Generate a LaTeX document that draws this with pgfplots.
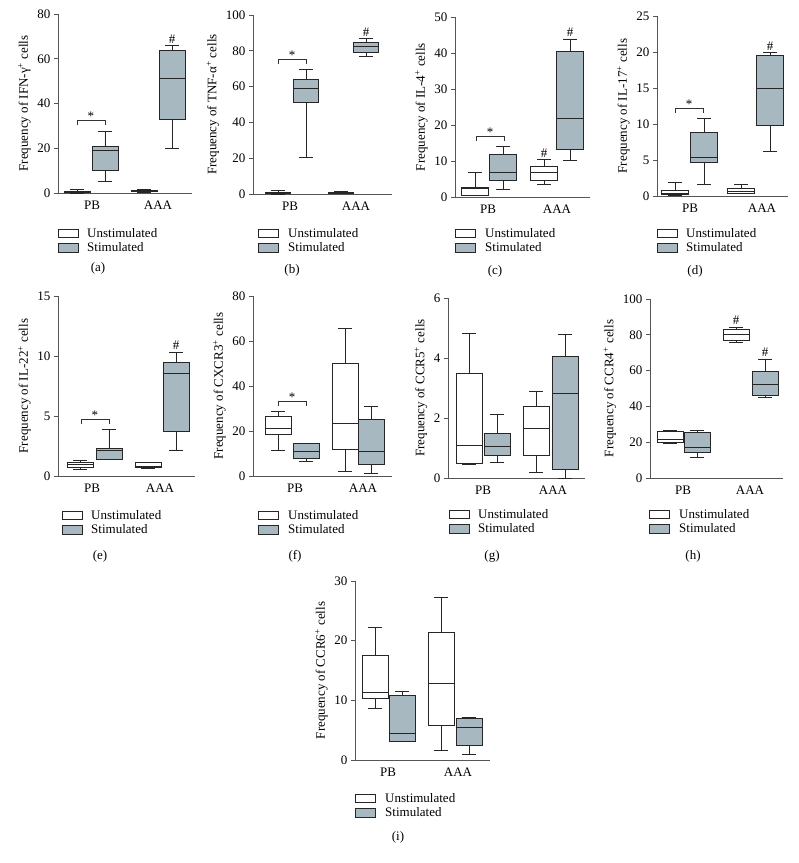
\documentclass[border=0pt]{standalone}
\usepackage{fontspec}
\setmainfont{Liberation Serif}
\usepackage{pgfplots}
\pgfplotsset{compat=1.18}
\usepgfplotslibrary{statistics}
\definecolor{boxfill}{RGB}{168,184,192}
\definecolor{axgray}{RGB}{85,85,85}
\newcommand{\fs}{\fontsize{13}{15}\selectfont}
\pgfplotsset{
  panel/.style={scale only axis, anchor=south west,
    axis x line=bottom, axis y line=left,
    axis line style={-, draw=axgray, line width=0.8pt},
    xmin=0, ymin=0, tick align=outside, major tick length=4pt,
    ytick style={draw=axgray, line width=0.8pt},
    xtick style={draw=none},
    clip=false,
    tick label style={font=\fs},
    ylabel near ticks,
    every axis y label/.append style={font=\fs},
    /pgf/number format/assume math mode=true,
    xticklabels={PB,AAA},
    boxplot/draw direction=y,
    boxplot/whisker extend=14,
  },
  un/.style={draw=black!85, fill=white, line width=0.9pt, solid},
  st/.style={draw=black!85, fill=boxfill, line width=0.9pt, solid},
}
% draw position, lw, lq, med, uq, uw, style
\newcommand{\bx}[7]{\addplot[#7, boxplot prepared={draw position=#1, lower whisker=#2, lower quartile=#3, median=#4, upper quartile=#5, upper whisker=#6}] coordinates {};}
% x1, x2, mid, y
\newcommand{\brk}[4]{\draw[black!80, line width=0.7pt] (axis cs:#1,#4) ++(0,-4.5pt) -- ++(0,4.5pt) -- (axis cs:#2,#4) -- ++(0,-4.5pt);
  \node[font=\fs, inner sep=0pt, anchor=base] at (axis cs:#3,#4) {*};}
\newcommand{\hash}[2]{\node[font=\fs, inner sep=0pt, anchor=base, yshift=2.5pt] at (axis cs:#1,#2) {\#};}
% legend: x of squares, y top of first square, text x
\newcommand{\lgd}[3]{%
  \draw[black!85, line width=0.8pt, fill=white] (#1pt,-#2pt) rectangle ++(20pt,-8.5pt);
  \draw[black!85, line width=0.8pt, fill=boxfill] (#1pt,-#2pt-14.5pt) rectangle ++(20pt,-8.5pt);
  \node[font=\fs, anchor=west, inner sep=0pt] at (#3pt,-#2pt-4.5pt) {Unstimulated};
  \node[font=\fs, anchor=west, inner sep=0pt] at (#3pt,-#2pt-18.5pt) {Stimulated};}
\begin{document}
\begin{tikzpicture}
\useasboundingbox (0,0) rectangle (799pt,-863pt);
% (a)
\begin{axis}[panel, at={(58pt,-193pt)}, width=134pt, height=179pt,
  xmax=134, ymax=80, ytick={0,20,40,60,80}, xtick={34,100},
  boxplot/box extend=26,
  ylabel={Frequency of IFN-γ\textsuperscript{+} cells}]
\bx{19}{0}{0.1}{0.3}{0.6}{1.5}{un}
\bx{47}{5.1}{10.3}{18.8}{21}{27.7}{st}
\bx{86}{0.3}{0.5}{1.0}{1.3}{1.6}{un}
\bx{114}{19.8}{33}{51}{63.5}{65.8}{st}
\brk{19}{47}{33}{32.3}
\hash{114}{65.8}
\end{axis}
% (b)
\begin{axis}[panel, at={(253pt,-194pt)}, width=139pt, height=179pt,
  xmax=139, ymax=100, ytick={0,20,40,60,80,100}, xtick={37,103},
  boxplot/box extend=25,
  ylabel={Frequency of TNF-α\textsuperscript{+} cells}]
\bx{25}{0}{0.1}{0.4}{0.8}{2}{un}
\bx{53}{20.4}{51}{59}{64}{69.8}{st}
\bx{88}{0.2}{0.4}{0.8}{1.0}{1.5}{un}
\bx{113}{76.8}{79}{82.2}{84.4}{86.8}{st}
\brk{25}{53}{39}{75}
\hash{113}{86.8}
\end{axis}
% (c)
\begin{axis}[panel, at={(455pt,-197pt)}, width=135pt, height=180pt,
  xmax=135, ymax=50, ytick={0,10,20,30,40,50}, xtick={33,102},
  boxplot/box extend=27,
  ylabel={Frequency of IL-4\textsuperscript{+} cells}]
\bx{20}{0.3}{0.5}{2.3}{2.7}{6.7}{un}
\bx{48}{2.0}{4.6}{6.9}{11.9}{14.1}{st}
\bx{89}{3.4}{4.5}{6.7}{8.6}{10.3}{un}
\bx{115}{10.1}{13.2}{21.8}{40.3}{43.9}{st}
\brk{21}{49}{35}{16.9}
\hash{89}{10.3}
\hash{115}{43.9}
\end{axis}
% (d)
\begin{axis}[panel, at={(657pt,-196pt)}, width=131pt, height=180pt,
  xmax=131, ymax=25, ytick={0,5,10,15,20,25}, xtick={33,105},
  boxplot/box extend=27,
  ylabel={Frequency of IL-17\textsuperscript{+} cells}]
\bx{18}{0.14}{0.28}{0.42}{0.83}{1.85}{un}
\bx{47}{1.6}{4.6}{5.4}{8.8}{10.8}{st}
\bx{84}{0.3}{0.4}{0.6}{1.1}{1.57}{un}
\bx{113}{6.25}{9.86}{14.9}{19.5}{19.9}{st}
\brk{18}{46}{32}{12.2}
\hash{113}{19.9}
\end{axis}
% (e)
\begin{axis}[panel, at={(58pt,-476pt)}, width=137pt, height=180pt,
  xmax=137, ymax=15, ytick={0,5,10,15}, xtick={34,102},
  boxplot/box extend=26,
  ylabel={Frequency of IL-22\textsuperscript{+} cells}]
\bx{22}{0.56}{0.75}{0.97}{1.17}{1.33}{un}
\bx{51}{1.38}{1.39}{2.17}{2.3}{3.9}{st}
\bx{90}{0.6}{0.7}{0.83}{1.1}{1.1}{un}
\bx{118}{2.17}{3.72}{8.53}{9.5}{10.3}{st}
\brk{23}{51}{37}{4.72}
\hash{118}{10.3}
\end{axis}
% (f)
\begin{axis}[panel, at={(253pt,-476pt)}, width=139pt, height=180pt,
  xmax=139, ymax=80, ytick={0,20,40,60,80}, xtick={42,110},
  boxplot/box extend=26,
  ylabel={Frequency of CXCR3\textsuperscript{+} cells}]
\bx{25}{11.4}{18.4}{21}{26.4}{28.6}{un}
\bx{53}{6.5}{8}{10.8}{14.4}{14.5}{st}
\bx{92}{2.1}{11.7}{23.4}{50.2}{65.6}{un}
\bx{118}{1.2}{5}{10.7}{25}{31.1}{st}
\brk{25}{53}{39}{33}
\end{axis}
% (g)
\begin{axis}[panel, at={(448pt,-478pt)}, width=137pt, height=180pt,
  xmax=137, ymax=6, ytick={0,2,4,6}, xtick={35,105},
  boxplot/box extend=26,
  ylabel={Frequency of CCR5\textsuperscript{+} cells}]
\bx{21}{0.44}{0.5}{1.09}{3.5}{4.83}{un}
\bx{49}{0.53}{0.74}{1.06}{1.5}{2.11}{st}
\bx{88}{0.17}{0.76}{1.66}{2.37}{2.89}{un}
\bx{117}{0}{0.3}{2.83}{4.06}{4.8}{st}
\end{axis}
% (h)
\begin{axis}[panel, at={(650pt,-478pt)}, width=133pt, height=179pt,
  xmax=133, ymax=100, ytick={0,20,40,60,80,100}, xtick={33,100},
  boxplot/box extend=26,
  ylabel={Frequency of CCR4\textsuperscript{+} cells}]
\bx{20}{19.1}{19.7}{21.6}{25.8}{26.6}{un}
\bx{47}{11.3}{14.5}{16.9}{25.5}{26.6}{st}
\bx{86}{76}{77}{80.3}{83.1}{84.2}{un}
\bx{115}{44.8}{46.3}{52.4}{59.7}{66.5}{st}
\hash{86}{84.2}
\hash{115}{66.5}
\end{axis}
% (i)
\begin{axis}[panel, at={(355pt,-760pt)}, width=135pt, height=179pt,
  xmax=135, ymax=30, ytick={0,10,20,30}, xtick={33,103},
  boxplot/box extend=26,
  ylabel={Frequency of CCR6\textsuperscript{+} cells}]
\bx{20}{8.6}{10.35}{11.35}{17.6}{22.3}{un}
\bx{47}{3.1}{3.1}{4.5}{10.9}{11.5}{st}
\bx{86}{1.6}{5.73}{12.85}{21.4}{27.2}{un}
\bx{114}{0.95}{2.5}{5.4}{6.96}{7.2}{st}
\end{axis}
% legends and captions
\lgd{58}{229}{87}
\lgd{258}{229}{288}
\lgd{455}{229}{485}
\lgd{657}{229}{686}
\lgd{62}{511}{91}
\lgd{258}{511}{288}
\lgd{449}{510}{478}
\lgd{649}{510}{679}
\lgd{355}{794}{385}
\node[font=\fs] at (98pt,-268pt) {(a)};
\node[font=\fs] at (292pt,-270pt) {(b)};
\node[font=\fs] at (495pt,-271pt) {(c)};
\node[font=\fs] at (695pt,-271pt) {(d)};
\node[font=\fs] at (100pt,-556pt) {(e)};
\node[font=\fs] at (295pt,-556pt) {(f)};
\node[font=\fs] at (492pt,-556pt) {(g)};
\node[font=\fs] at (693pt,-556pt) {(h)};
\node[font=\fs] at (398pt,-837pt) {(i)};
\end{tikzpicture}
\end{document}
